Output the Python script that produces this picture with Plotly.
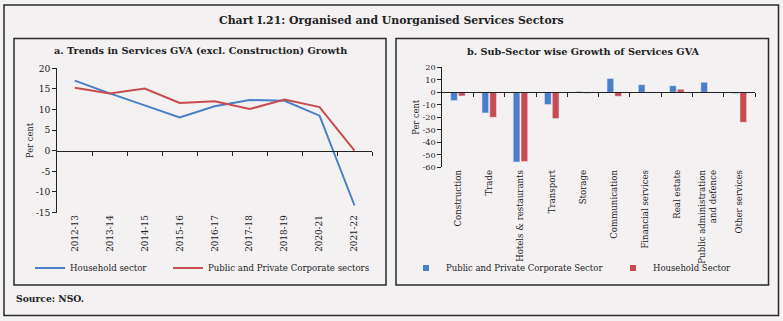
import plotly.graph_objects as go

# ---- data ----
years = ["2012-13", "2013-14", "2014-15", "2015-16", "2016-17",
         "2017-18", "2018-19", "2020-21", "2021-22"]
household_growth = [17.0, 13.9, 11.0, 8.1, 10.8, 12.3, 12.1, 8.5, -13.3]
corporate_growth = [15.3, 13.9, 15.1, 11.6, 12.0, 10.1, 12.4, 10.6, 0.0]

sectors = ["Construction", "Trade", "Hotels & restaurants", "Transport", "Storage",
           "Communication", "Financial services", "Real estate",
           "Public administration<br>and defence", "Other services"]
corporate_sector = [-6.6, -16.5, -55.7, -9.8, 0.7, 11.0, 6.1, 5.3, 8.0, -1.0]
household_sector = [-2.9, -20.0, -55.3, -21.0, -0.8, -3.2, 0.0, 2.4, 0.0, -24.0]

ya_ticks = [-15, -10, -5, 0, 5, 10, 15, 20]
ya_text = ["-15", "-10", "-5", "0", "5", "10", "15", "20"]
ya_range = [-15, 20]
yb_ticks = [-60, -50, -40, -30, -20, -10, 0, 10, 20]
yb_text = ["-60", "-50", "-40", "-30", "-20", "-10", "0", "10", "20"]
yb_range = [-60, 20]

# ---- styling ----
W, H = 783, 321
BG = "#F4F1F2"
BLUE = "#4A7EC8"
RED = "#C94B51"
INK = "#222222"
SERIF = "DejaVu Serif"


def px(x):
    return x / W


def py(y):
    return 1 - y / H


fig = go.Figure()

# panel a: lines (each entry in its own legend box so they can be placed freely)
fig.add_trace(go.Scatter(x=years, y=household_growth, mode="lines", name="Household sector",
                         line=dict(color=BLUE, width=2), xaxis="x", yaxis="y", legend="legend"))
fig.add_trace(go.Scatter(x=years, y=corporate_growth, mode="lines",
                         name="Public and Private Corporate sectors",
                         line=dict(color=RED, width=2), xaxis="x", yaxis="y", legend="legend2"))

# panel b: grouped bars
fig.add_trace(go.Bar(x=sectors, y=corporate_sector, marker_color=BLUE, showlegend=False,
                     xaxis="x2", yaxis="y2", name="Public and Private Corporate Sector"))
fig.add_trace(go.Bar(x=sectors, y=household_sector, marker_color=RED, showlegend=False,
                     xaxis="x2", yaxis="y2", name="Household Sector"))
# legend entries for panel b with small square swatches
for nm, col, lg in [("Public and Private Corporate Sector", BLUE, "legend3"),
                    ("Household Sector", RED, "legend4")]:
    fig.add_trace(go.Scatter(x=[None], y=[None], mode="markers", name=nm,
                             marker=dict(symbol="square", size=6, color=col),
                             xaxis="x2", yaxis="y2", legend=lg))

# zero-line axes carrying the category boundary ticks
fig.add_trace(go.Scatter(x=[None], y=[None], xaxis="x3", yaxis="y", showlegend=False, hoverinfo="skip"))
fig.add_trace(go.Scatter(x=[None], y=[None], xaxis="x4", yaxis="y2", showlegend=False, hoverinfo="skip"))

# plot-area geometry
xa_dom = [px(57.3), px(372)]
ya_dom = [py(212.5), py(68.3)]
xb_dom = [px(442.3), px(755)]
yb_dom = [py(167.3), py(67.3)]


def zero_pos(dom, rng):
    return dom[0] + (0 - rng[0]) / (rng[1] - rng[0]) * (dom[1] - dom[0])


tickfont_a = dict(family=SERIF, size=8.8, color=INK)
tickfont_b = dict(family=SERIF, size=8.6, color=INK)
ytickfont_b = dict(family=SERIF, size=8.2, color=INK)
title_font = dict(family=SERIF, size=8.3, color=INK)


def leg(x, size):
    return dict(orientation="h", x=px(x), y=py(268), xanchor="left", yanchor="middle",
                bgcolor="rgba(0,0,0,0)", font=dict(family=SERIF, size=size, color=INK),
                itemsizing="trace")


fig.update_layout(
    width=W, height=H,
    margin=dict(l=0, r=0, t=0, b=0, autoexpand=False),
    paper_bgcolor=BG, plot_bgcolor=BG,
    barmode="group", bargap=0.5, bargroupgap=0.15,
    xaxis=dict(domain=xa_dom, anchor="y", type="category", range=[-0.5, len(years) - 0.5],
               showline=False, ticks="", tickangle=-90, tickfont=tickfont_a,
               showgrid=False, zeroline=False),
    yaxis=dict(domain=ya_dom, anchor="x", range=ya_range, tickvals=ya_ticks, ticktext=ya_text,
               showline=True, linecolor=INK, linewidth=1, ticks="outside", ticklen=4,
               tickcolor=INK, tickfont=dict(family=SERIF, size=9.2, color=INK),
               showgrid=False, zeroline=False,
               title=dict(text="Per cent", font=title_font, standoff=0)),
    xaxis3=dict(overlaying="x", anchor="free", position=zero_pos(ya_dom, ya_range),
                range=[-0.5, len(years) - 0.5], tickvals=[i + 0.5 for i in range(len(years))],
                showticklabels=False, ticks="outside", ticklen=4, tickcolor=INK,
                showline=True, linecolor=INK, linewidth=1, showgrid=False, zeroline=False),
    xaxis2=dict(domain=xb_dom, anchor="y2", type="category", range=[-0.5, len(sectors) - 0.5],
                showline=False, ticks="", tickangle=-90, tickfont=tickfont_b,
                showgrid=False, zeroline=False),
    yaxis2=dict(domain=yb_dom, anchor="x2", range=yb_range, tickvals=yb_ticks, ticktext=yb_text,
                showline=True, linecolor=INK, linewidth=1, ticks="outside", ticklen=4,
                tickcolor=INK, tickfont=ytickfont_b, showgrid=False, zeroline=False,
                title=dict(text="Per cent", font=title_font, standoff=1)),
    xaxis4=dict(overlaying="x2", anchor="free", position=zero_pos(yb_dom, yb_range),
                range=[-0.5, len(sectors) - 0.5], tickvals=[i + 0.5 for i in range(len(sectors))],
                showticklabels=False, ticks="outside", ticklen=4, tickcolor=INK,
                showline=True, linecolor=INK, linewidth=1, showgrid=False, zeroline=False),
    legend=leg(30, 8.6),
    legend2=leg(168, 8.6),
    legend3=leg(406, 8.5),
    legend4=leg(613, 8.5),
    showlegend=True,
)

# frames around the whole chart and each panel
frame = dict(type="rect", xref="paper", yref="paper", line=dict(color="#2a2a2a", width=1.5),
             fillcolor="rgba(0,0,0,0)", layer="below")
fig.add_shape(x0=px(4), x1=px(778.5), y0=py(315.5), y1=py(5), **frame)
fig.add_shape(x0=px(14), x1=px(386), y0=py(285), y1=py(38.5), **frame)
fig.add_shape(x0=px(396), x1=px(768.5), y0=py(285), y1=py(38.5), **frame)

ann = dict(xref="paper", yref="paper", showarrow=False)
fig.add_annotation(text="<b>Chart I.21: Organised and Unorganised Services Sectors</b>",
                   x=px(391), y=py(20), xanchor="center", yanchor="middle",
                   font=dict(family=SERIF, size=10.9, color=INK), **ann)
fig.add_annotation(text="<b>a. Trends in Services GVA (excl. Construction) Growth</b>",
                   x=px(200), y=py(50), xanchor="center", yanchor="middle",
                   font=dict(family=SERIF, size=9.7, color=INK), **ann)
fig.add_annotation(text="<b>b. Sub-Sector wise Growth of Services GVA</b>",
                   x=px(583), y=py(51), xanchor="center", yanchor="middle",
                   font=dict(family=SERIF, size=9.7, color=INK), **ann)
fig.add_annotation(text="<b>Source: NSO.</b>", x=px(14), y=py(298), xanchor="left",
                   yanchor="middle", font=dict(family=SERIF, size=9.2, color=INK), **ann)

fig.write_html("out.html")
